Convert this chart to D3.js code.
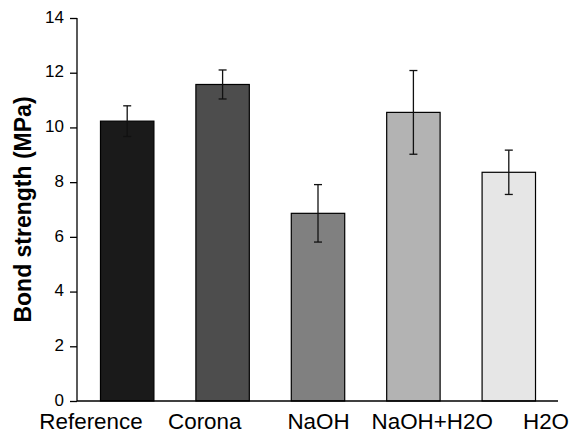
<!DOCTYPE html>
<html>
<head>
<meta charset="utf-8">
<script src="https://cdn.jsdelivr.net/npm/d3@7"></script>
<style>
  body { margin: 0; background: #fff; }
  svg { font-family: "Liberation Sans", Arial, sans-serif; }
  .axis path, .axis line { stroke: #000; stroke-width: 1.3; }
  .axis text { font-size: 17px; fill: #000; }
</style>
</head>
<body>
<div id="chart"></div>
<script>
// data
var groups = ["Reference", "Corona", "NaOH", "NaOH+H2O", "H2O"];
var means = [10.23, 11.57, 6.86, 10.55, 8.36];
var errors = [0.56, 0.53, 1.05, 1.53, 0.81];
var fills = ["#1a1a1a", "#4d4d4d", "#808080", "#b3b3b3", "#e6e6e6"];
var yTicks = [0, 2, 4, 6, 8, 10, 12, 14];

var width = 574, height = 434;
var axisLeft = 77, axisRight = 558, axisTop = 18, axisBottom = 401;

var svg = d3.select("#chart").append("svg")
    .attr("width", width)
    .attr("height", height);

var x = d3.scaleBand()
    .domain(groups)
    .range([79.5, 556.5])
    .paddingInner(0.44)
    .paddingOuter(0.22);

// category labels are spread wider than the bars in the original
var xLabel = d3.scalePoint()
    .domain(groups)
    .range([91, 546]);

var y = d3.scaleLinear()
    .domain([0, 14])
    .range([axisBottom, axisTop]);

// bars
svg.selectAll(".bar").data(groups)
  .enter().append("rect")
    .attr("class", "bar")
    .attr("x", function(d) { return x(d); })
    .attr("y", function(d, i) { return y(means[i]); })
    .attr("width", x.bandwidth())
    .attr("height", function(d, i) { return y(0) - y(means[i]); })
    .attr("fill", function(d, i) { return fills[i]; })
    .attr("stroke", "#000")
    .attr("stroke-width", 1.2);

// error bars
var err = svg.selectAll(".err").data(groups)
  .enter().append("g")
    .attr("class", "err")
    .attr("stroke", "#111")
    .attr("stroke-width", 1.3);

err.append("line")
    .attr("x1", function(d) { return x(d) + x.bandwidth() / 2; })
    .attr("x2", function(d) { return x(d) + x.bandwidth() / 2; })
    .attr("y1", function(d, i) { return y(means[i] + errors[i]); })
    .attr("y2", function(d, i) { return y(means[i] - errors[i]); });

[1, -1].forEach(function(s) {
  err.append("line")
      .attr("x1", function(d) { return x(d) + x.bandwidth() / 2 - 4; })
      .attr("x2", function(d) { return x(d) + x.bandwidth() / 2 + 4; })
      .attr("y1", function(d, i) { return y(means[i] + s * errors[i]); })
      .attr("y2", function(d, i) { return y(means[i] + s * errors[i]); });
});

// y axis
var yAxis = svg.append("g")
    .attr("class", "axis")
    .attr("transform", "translate(" + axisLeft + ",0)")
    .call(d3.axisLeft(y).tickValues(yTicks).tickSize(7).tickPadding(6).tickSizeOuter(0));
yAxis.select(".domain")
    .attr("d", "M0," + y(14) + "V" + y(0));
yAxis.selectAll(".tick text")
    .attr("dy", "0.25em");

// x axis line
svg.append("line")
    .attr("x1", axisLeft)
    .attr("x2", axisRight)
    .attr("y1", y(0))
    .attr("y2", y(0))
    .attr("stroke", "#000")
    .attr("stroke-width", 1.3);

// category labels
svg.selectAll(".xlabel").data(groups)
  .enter().append("text")
    .attr("class", "xlabel")
    .attr("x", function(d) { return xLabel(d); })
    .attr("y", 429.2)
    .attr("text-anchor", "middle")
    .attr("font-size", "22.4px")
    .text(function(d) { return d; });

// y title
svg.append("text")
    .attr("transform", "translate(31," + ((axisTop + axisBottom) / 2) + ") rotate(-90)")
    .attr("text-anchor", "middle")
    .attr("font-size", "23px")
    .attr("font-weight", "bold")
    .text("Bond strength (MPa)");
</script>
</body>
</html>
